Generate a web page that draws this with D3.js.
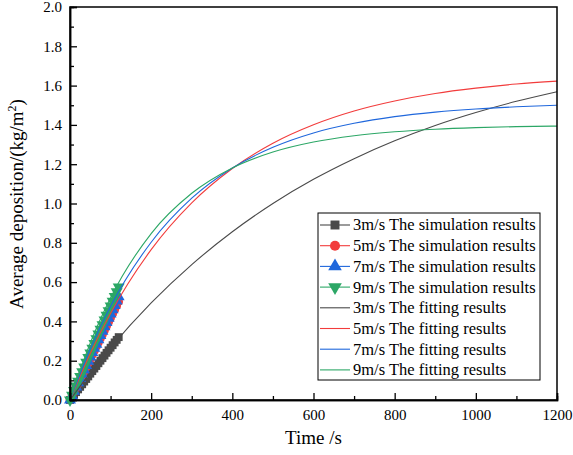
<!DOCTYPE html>
<html>
<head>
<meta charset="utf-8">
<script src="https://cdn.jsdelivr.net/npm/d3@7"></script>
<style>
  body { margin: 0; background: #fff; }
  svg text { font-family: "Liberation Serif", "Times New Roman", serif !important; }
</style>
</head>
<body>
<svg width="573" height="455"></svg>
<script>
// simulation results, every 5 s up to 120 s
var simTime = [0, 5, 10, 15, 20, 25, 30, 35, 40, 45, 50, 55, 60, 65, 70, 75, 80, 85, 90, 95, 100, 105, 110, 115, 120];
var sim3 = [0, 0.014, 0.027, 0.040, 0.054, 0.067, 0.080, 0.094, 0.107, 0.120, 0.134, 0.147, 0.160, 0.173, 0.187, 0.200, 0.213, 0.226, 0.240, 0.253, 0.266, 0.279, 0.293, 0.306, 0.320];
var sim5 = [0, 0.021, 0.042, 0.063, 0.083, 0.104, 0.125, 0.146, 0.167, 0.188, 0.208, 0.229, 0.250, 0.271, 0.292, 0.313, 0.333, 0.354, 0.375, 0.396, 0.417, 0.438, 0.458, 0.479, 0.500];
var sim7 = [0, 0.022, 0.044, 0.066, 0.088, 0.109, 0.131, 0.153, 0.175, 0.197, 0.219, 0.241, 0.263, 0.284, 0.306, 0.328, 0.350, 0.372, 0.394, 0.416, 0.438, 0.459, 0.481, 0.503, 0.525];
var sim9 = [0, 0.024, 0.048, 0.072, 0.096, 0.120, 0.144, 0.168, 0.192, 0.216, 0.240, 0.264, 0.288, 0.312, 0.336, 0.360, 0.383, 0.407, 0.431, 0.455, 0.479, 0.503, 0.527, 0.551, 0.575];

// fitting curves
var fitTime = [0, 50, 100, 200, 300, 400, 500, 600, 700, 800, 900, 1000, 1100, 1200];
var fit3 = [0, 0.138, 0.266, 0.494, 0.689, 0.856, 1.000, 1.123, 1.228, 1.319, 1.397, 1.463, 1.520, 1.569];
var fit5 = [0, 0.237, 0.441, 0.765, 1.003, 1.178, 1.307, 1.401, 1.471, 1.522, 1.560, 1.587, 1.608, 1.623];
var fit7 = [0, 0.261, 0.477, 0.803, 1.027, 1.181, 1.286, 1.359, 1.408, 1.442, 1.465, 1.481, 1.492, 1.500];
var fit9 = [0, 0.290, 0.520, 0.847, 1.052, 1.181, 1.262, 1.313, 1.345, 1.365, 1.378, 1.386, 1.391, 1.394];

var speeds = ['3m/s', '5m/s', '7m/s', '9m/s'];
var colors = ['#4a4a4a', '#f23c3c', '#1f67dc', '#2ca766'];
var symbols = [d3.symbolSquare, d3.symbolCircle, d3.symbolTriangle, d3.symbolTriangle];
var rotations = [0, 0, 0, 180];

var serif = '"Liberation Serif", "Times New Roman", serif';

var margin = { top: 7, right: 16, bottom: 55, left: 70 },
    width = 573 - margin.left - margin.right,
    height = 455 - margin.top - margin.bottom;

var svg = d3.select('svg');
var chart = svg.append('g')
    .attr('transform', 'translate(' + margin.left + ',' + margin.top + ')');

var xScale = d3.scaleLinear().domain([0, 1200]).range([0, width]);
var yScale = d3.scaleLinear().domain([0, 2.0]).range([height, 0]);

// markers
var simSeries = [sim3, sim5, sim7, sim9];
simSeries.forEach(function(vals, i) {
  var sym = d3.symbol().type(symbols[i]).size(i === 1 ? 60 : 62);
  chart.append('g').selectAll('path')
    .data(simTime)
    .enter().append('path')
      .attr('d', sym)
      .attr('fill', colors[i])
      .attr('transform', function(d, j) {
        return 'translate(' + xScale(d) + ',' + yScale(vals[j]) + ') rotate(' + rotations[i] + ')';
      });
});

// fitted lines
var line = d3.line()
    .x(function(d) { return xScale(d[0]); })
    .y(function(d) { return yScale(d[1]); })
    .curve(d3.curveMonotoneX);

[fit3, fit5, fit7, fit9].forEach(function(vals, i) {
  chart.append('path')
    .datum(fitTime.map(function(t, j) { return [t, vals[j]]; }))
    .attr('d', line)
    .attr('fill', 'none')
    .attr('stroke', colors[i])
    .attr('stroke-width', 1.1);
});

// frame
chart.append('rect')
    .attr('width', width)
    .attr('height', height)
    .attr('fill', 'none')
    .attr('stroke', '#000')
    .attr('stroke-width', 1.5);

// axes, ticks inward
var xMinor = chart.append('g')
    .attr('transform', 'translate(0,' + height + ')')
    .call(d3.axisBottom(xScale).tickValues(d3.range(100, 1200, 200)).tickSize(-4).tickFormat(''));
var xAxis = chart.append('g')
    .attr('transform', 'translate(0,' + height + ')')
    .call(d3.axisBottom(xScale).tickValues(d3.range(0, 1201, 200)).tickSize(-7).tickPadding(9).tickFormat(d3.format('d')));
var yMinor = chart.append('g')
    .call(d3.axisLeft(yScale).tickValues(d3.range(0.1, 2.0, 0.2)).tickSize(-4).tickFormat(''));
var yAxis = chart.append('g')
    .call(d3.axisLeft(yScale).tickValues(d3.range(0, 2.01, 0.2)).tickSize(-7).tickPadding(8).tickFormat(d3.format('.1f')));

[xMinor, xAxis, yMinor, yAxis].forEach(function(g) {
  g.attr('font-family', null).attr('font-size', null);
  g.select('.domain').attr('stroke-width', 1.5);
  g.selectAll('.tick line').attr('stroke-width', 1.3);
  g.selectAll('.tick text')
    .style('font-family', serif)
    .style('font-size', '15px')
    .attr('fill', '#000');
});

// axis titles
svg.append('text')
    .attr('x', margin.left + width / 2)
    .attr('y', 444)
    .attr('text-anchor', 'middle')
    .style('font-family', serif)
    .style('font-size', '19px')
    .text('Time /s');

var yTitle = svg.append('text')
    .attr('transform', 'translate(23,' + 204 + ') rotate(-90)')
    .attr('text-anchor', 'middle')
    .style('font-family', serif)
    .style('font-size', '19px');
yTitle.append('tspan').text('Average deposition/(kg/m');
yTitle.append('tspan').style('font-size', '12px').attr('dy', -7).text('2');
yTitle.append('tspan').attr('dy', 7).text(')');

// legend
var legend = svg.append('g').attr('transform', 'translate(318,213)');
legend.append('rect')
    .attr('width', 222)
    .attr('height', 167)
    .attr('fill', '#fff')
    .attr('stroke', '#000')
    .attr('stroke-width', 1);

var items = speeds.map(function(s, i) { return { label: s + ' The simulation results', i: i, marker: true }; })
  .concat(speeds.map(function(s, i) { return { label: s + ' The fitting results', i: i, marker: false }; }));

var row = legend.selectAll('g.item')
    .data(items)
    .enter().append('g')
      .attr('class', 'item')
      .attr('transform', function(d, k) { return 'translate(0,' + (12 + k * 20.7) + ')'; });

row.append('line')
    .attr('x1', 2).attr('x2', 32)
    .attr('stroke', function(d) { return colors[d.i]; })
    .attr('stroke-width', 1.1);

row.filter(function(d) { return d.marker; })
  .append('path')
    .attr('d', function(d) { return d3.symbol().type(symbols[d.i]).size(80)(); })
    .attr('fill', function(d) { return colors[d.i]; })
    .attr('transform', function(d) { return 'translate(17,0) rotate(' + rotations[d.i] + ')'; });

row.append('text')
    .attr('x', 35)
    .attr('dy', '0.33em')
    .style('font-family', serif)
    .style('font-size', '16.5px')
    .text(function(d) { return d.label; });
</script>
</body>
</html>
